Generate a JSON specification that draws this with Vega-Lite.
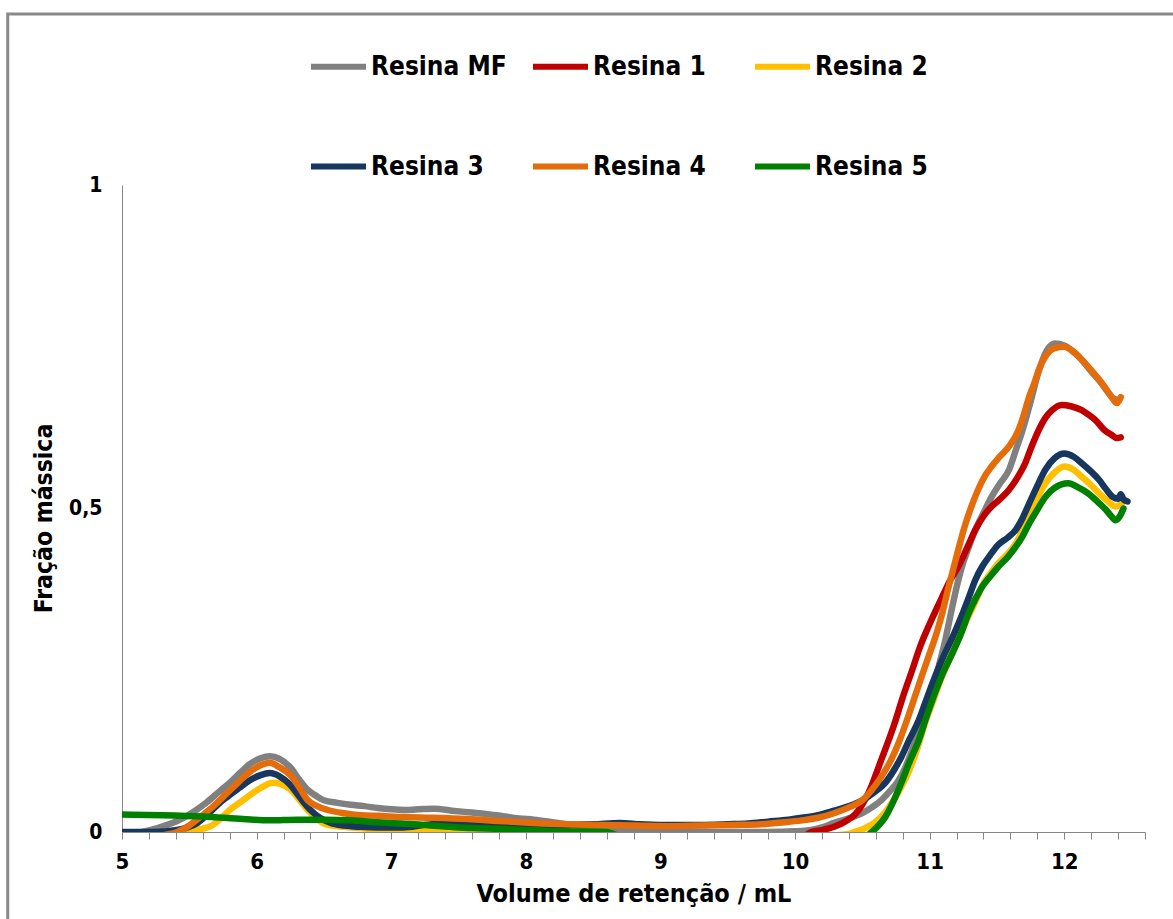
{
  "$schema": "https://vega.github.io/schema/vega-lite/v6.json",
  "width": 1023,
  "height": 647,
  "autosize": "none",
  "padding": {"left": 122, "top": 185, "right": 28, "bottom": 87},
  "background": "white",
  "config": {"view": {"stroke": null}, "font": "DejaVu Sans Condensed"},
  "resolve": {"scale": {"x": "independent", "y": "independent"}, "axis": {"x": "independent", "y": "independent"}},
  "layer": [
    {
      "data": {"values": [{}]},
      "mark": {"type": "rect", "fill": null, "stroke": "#898989", "strokeWidth": 3, "clip": false},
      "encoding": {
        "x": {"datum": 4.151, "type": "quantitative", "scale": {"domain": [5, 12.6], "nice": false, "zero": false}, "axis": null},
        "x2": {"datum": 13.2},
        "y": {"datum": 1.2643, "type": "quantitative", "scale": {"domain": [0, 1], "nice": false}, "axis": null},
        "y2": {"datum": -0.3}
      }
    },
    {
      "data": {"values": [
{"s":"Resina MF","x":5.0,"y":-0.005},{"s":"Resina MF","x":5.15,"y":0.0},{"s":"Resina MF","x":5.23,"y":0.004},{"s":"Resina MF","x":5.32,"y":0.01},{"s":"Resina MF","x":5.41,"y":0.017},{"s":"Resina MF","x":5.5,"y":0.027},{"s":"Resina MF","x":5.63,"y":0.046},{"s":"Resina MF","x":5.72,"y":0.062},{"s":"Resina MF","x":5.8,"y":0.076},{"s":"Resina MF","x":5.88,"y":0.092},{"s":"Resina MF","x":5.95,"y":0.105},{"s":"Resina MF","x":6.03,"y":0.114},{"s":"Resina MF","x":6.1,"y":0.117},{"s":"Resina MF","x":6.17,"y":0.113},{"s":"Resina MF","x":6.25,"y":0.1},{"s":"Resina MF","x":6.32,"y":0.08},{"s":"Resina MF","x":6.38,"y":0.065},{"s":"Resina MF","x":6.45,"y":0.055},{"s":"Resina MF","x":6.5,"y":0.049},{"s":"Resina MF","x":6.6,"y":0.045},{"s":"Resina MF","x":6.7,"y":0.042},{"s":"Resina MF","x":6.8,"y":0.04},{"s":"Resina MF","x":6.9,"y":0.037},{"s":"Resina MF","x":7.0,"y":0.035},{"s":"Resina MF","x":7.1,"y":0.034},{"s":"Resina MF","x":7.2,"y":0.035},{"s":"Resina MF","x":7.32,"y":0.036},{"s":"Resina MF","x":7.45,"y":0.033},{"s":"Resina MF","x":7.6,"y":0.03},{"s":"Resina MF","x":7.7,"y":0.028},{"s":"Resina MF","x":7.81,"y":0.025},{"s":"Resina MF","x":7.95,"y":0.021},{"s":"Resina MF","x":8.06,"y":0.019},{"s":"Resina MF","x":8.2,"y":0.015},{"s":"Resina MF","x":8.3,"y":0.012},{"s":"Resina MF","x":8.43,"y":0.008},{"s":"Resina MF","x":8.6,"y":0.005},{"s":"Resina MF","x":8.8,"y":0.003},{"s":"Resina MF","x":9.0,"y":0.002},{"s":"Resina MF","x":9.3,"y":0.0},{"s":"Resina MF","x":9.6,"y":0.0},{"s":"Resina MF","x":9.8,"y":0.0},{"s":"Resina MF","x":10.0,"y":0.001},{"s":"Resina MF","x":10.12,"y":0.003},{"s":"Resina MF","x":10.2,"y":0.007},{"s":"Resina MF","x":10.29,"y":0.014},{"s":"Resina MF","x":10.4,"y":0.021},{"s":"Resina MF","x":10.5,"y":0.029},{"s":"Resina MF","x":10.57,"y":0.038},{"s":"Resina MF","x":10.64,"y":0.049},{"s":"Resina MF","x":10.7,"y":0.062},{"s":"Resina MF","x":10.77,"y":0.08},{"s":"Resina MF","x":10.82,"y":0.1},{"s":"Resina MF","x":10.87,"y":0.127},{"s":"Resina MF","x":10.92,"y":0.155},{"s":"Resina MF","x":10.96,"y":0.184},{"s":"Resina MF","x":11.02,"y":0.22},{"s":"Resina MF","x":11.07,"y":0.258},{"s":"Resina MF","x":11.12,"y":0.3},{"s":"Resina MF","x":11.16,"y":0.34},{"s":"Resina MF","x":11.2,"y":0.378},{"s":"Resina MF","x":11.24,"y":0.41},{"s":"Resina MF","x":11.29,"y":0.44},{"s":"Resina MF","x":11.34,"y":0.467},{"s":"Resina MF","x":11.4,"y":0.493},{"s":"Resina MF","x":11.46,"y":0.518},{"s":"Resina MF","x":11.52,"y":0.538},{"s":"Resina MF","x":11.59,"y":0.56},{"s":"Resina MF","x":11.64,"y":0.59},{"s":"Resina MF","x":11.69,"y":0.621},{"s":"Resina MF","x":11.76,"y":0.673},{"s":"Resina MF","x":11.8,"y":0.705},{"s":"Resina MF","x":11.84,"y":0.73},{"s":"Resina MF","x":11.88,"y":0.747},{"s":"Resina MF","x":11.93,"y":0.755},{"s":"Resina MF","x":12.0,"y":0.752},{"s":"Resina MF","x":12.07,"y":0.742},{"s":"Resina MF","x":12.13,"y":0.73},{"s":"Resina MF","x":12.2,"y":0.712},{"s":"Resina MF","x":12.26,"y":0.698},{"s":"Resina MF","x":12.31,"y":0.684},{"s":"Resina MF","x":12.36,"y":0.671},{"s":"Resina MF","x":12.4,"y":0.667},
{"s":"Resina 1","x":5.0,"y":-0.02},{"s":"Resina 1","x":7.0,"y":-0.02},{"s":"Resina 1","x":9.0,"y":-0.02},{"s":"Resina 1","x":10.0,"y":-0.015},{"s":"Resina 1","x":10.12,"y":0.0},{"s":"Resina 1","x":10.2,"y":0.003},{"s":"Resina 1","x":10.29,"y":0.008},{"s":"Resina 1","x":10.38,"y":0.017},{"s":"Resina 1","x":10.45,"y":0.028},{"s":"Resina 1","x":10.52,"y":0.05},{"s":"Resina 1","x":10.57,"y":0.072},{"s":"Resina 1","x":10.62,"y":0.1},{"s":"Resina 1","x":10.68,"y":0.133},{"s":"Resina 1","x":10.74,"y":0.168},{"s":"Resina 1","x":10.8,"y":0.208},{"s":"Resina 1","x":10.87,"y":0.25},{"s":"Resina 1","x":10.93,"y":0.287},{"s":"Resina 1","x":10.99,"y":0.317},{"s":"Resina 1","x":11.04,"y":0.34},{"s":"Resina 1","x":11.09,"y":0.362},{"s":"Resina 1","x":11.15,"y":0.388},{"s":"Resina 1","x":11.22,"y":0.413},{"s":"Resina 1","x":11.28,"y":0.44},{"s":"Resina 1","x":11.34,"y":0.467},{"s":"Resina 1","x":11.4,"y":0.488},{"s":"Resina 1","x":11.46,"y":0.503},{"s":"Resina 1","x":11.52,"y":0.514},{"s":"Resina 1","x":11.59,"y":0.529},{"s":"Resina 1","x":11.65,"y":0.547},{"s":"Resina 1","x":11.71,"y":0.57},{"s":"Resina 1","x":11.76,"y":0.597},{"s":"Resina 1","x":11.81,"y":0.621},{"s":"Resina 1","x":11.86,"y":0.64},{"s":"Resina 1","x":11.91,"y":0.652},{"s":"Resina 1","x":11.98,"y":0.66},{"s":"Resina 1","x":12.05,"y":0.658},{"s":"Resina 1","x":12.13,"y":0.652},{"s":"Resina 1","x":12.18,"y":0.645},{"s":"Resina 1","x":12.23,"y":0.637},{"s":"Resina 1","x":12.3,"y":0.621},{"s":"Resina 1","x":12.35,"y":0.614},{"s":"Resina 1","x":12.39,"y":0.609},{"s":"Resina 1","x":12.42,"y":0.61},
{"s":"Resina 2","x":5.0,"y":-0.01},{"s":"Resina 2","x":5.4,"y":-0.005},{"s":"Resina 2","x":5.48,"y":0.0},{"s":"Resina 2","x":5.57,"y":0.004},{"s":"Resina 2","x":5.66,"y":0.009},{"s":"Resina 2","x":5.73,"y":0.02},{"s":"Resina 2","x":5.8,"y":0.034},{"s":"Resina 2","x":5.88,"y":0.046},{"s":"Resina 2","x":5.95,"y":0.057},{"s":"Resina 2","x":6.03,"y":0.068},{"s":"Resina 2","x":6.12,"y":0.076},{"s":"Resina 2","x":6.18,"y":0.074},{"s":"Resina 2","x":6.25,"y":0.066},{"s":"Resina 2","x":6.31,"y":0.052},{"s":"Resina 2","x":6.38,"y":0.034},{"s":"Resina 2","x":6.45,"y":0.02},{"s":"Resina 2","x":6.53,"y":0.011},{"s":"Resina 2","x":6.65,"y":0.008},{"s":"Resina 2","x":6.77,"y":0.006},{"s":"Resina 2","x":6.9,"y":0.004},{"s":"Resina 2","x":7.09,"y":0.003},{"s":"Resina 2","x":7.3,"y":0.002},{"s":"Resina 2","x":7.5,"y":0.001},{"s":"Resina 2","x":7.7,"y":0.0},{"s":"Resina 2","x":7.9,"y":-0.008},{"s":"Resina 2","x":10.0,"y":-0.008},{"s":"Resina 2","x":10.4,"y":-0.003},{"s":"Resina 2","x":10.44,"y":0.0},{"s":"Resina 2","x":10.52,"y":0.006},{"s":"Resina 2","x":10.59,"y":0.014},{"s":"Resina 2","x":10.66,"y":0.028},{"s":"Resina 2","x":10.72,"y":0.045},{"s":"Resina 2","x":10.79,"y":0.07},{"s":"Resina 2","x":10.85,"y":0.096},{"s":"Resina 2","x":10.91,"y":0.13},{"s":"Resina 2","x":10.96,"y":0.165},{"s":"Resina 2","x":11.03,"y":0.205},{"s":"Resina 2","x":11.09,"y":0.24},{"s":"Resina 2","x":11.16,"y":0.272},{"s":"Resina 2","x":11.22,"y":0.301},{"s":"Resina 2","x":11.28,"y":0.33},{"s":"Resina 2","x":11.34,"y":0.356},{"s":"Resina 2","x":11.4,"y":0.384},{"s":"Resina 2","x":11.46,"y":0.402},{"s":"Resina 2","x":11.51,"y":0.415},{"s":"Resina 2","x":11.58,"y":0.43},{"s":"Resina 2","x":11.64,"y":0.446},{"s":"Resina 2","x":11.7,"y":0.47},{"s":"Resina 2","x":11.76,"y":0.498},{"s":"Resina 2","x":11.81,"y":0.52},{"s":"Resina 2","x":11.86,"y":0.539},{"s":"Resina 2","x":11.93,"y":0.556},{"s":"Resina 2","x":12.0,"y":0.565},{"s":"Resina 2","x":12.07,"y":0.56},{"s":"Resina 2","x":12.13,"y":0.549},{"s":"Resina 2","x":12.2,"y":0.536},{"s":"Resina 2","x":12.26,"y":0.523},{"s":"Resina 2","x":12.32,"y":0.512},{"s":"Resina 2","x":12.38,"y":0.503},{"s":"Resina 2","x":12.43,"y":0.508},
{"s":"Resina 3","x":5.0,"y":0.0},{"s":"Resina 3","x":5.23,"y":0.0},{"s":"Resina 3","x":5.41,"y":0.003},{"s":"Resina 3","x":5.5,"y":0.008},{"s":"Resina 3","x":5.56,"y":0.014},{"s":"Resina 3","x":5.65,"y":0.03},{"s":"Resina 3","x":5.72,"y":0.044},{"s":"Resina 3","x":5.78,"y":0.054},{"s":"Resina 3","x":5.87,"y":0.068},{"s":"Resina 3","x":5.95,"y":0.08},{"s":"Resina 3","x":6.03,"y":0.088},{"s":"Resina 3","x":6.1,"y":0.091},{"s":"Resina 3","x":6.17,"y":0.086},{"s":"Resina 3","x":6.25,"y":0.073},{"s":"Resina 3","x":6.32,"y":0.054},{"s":"Resina 3","x":6.4,"y":0.034},{"s":"Resina 3","x":6.47,"y":0.022},{"s":"Resina 3","x":6.55,"y":0.014},{"s":"Resina 3","x":6.65,"y":0.01},{"s":"Resina 3","x":6.77,"y":0.008},{"s":"Resina 3","x":6.9,"y":0.007},{"s":"Resina 3","x":7.09,"y":0.007},{"s":"Resina 3","x":7.25,"y":0.011},{"s":"Resina 3","x":7.4,"y":0.013},{"s":"Resina 3","x":7.6,"y":0.013},{"s":"Resina 3","x":7.8,"y":0.013},{"s":"Resina 3","x":8.0,"y":0.012},{"s":"Resina 3","x":8.2,"y":0.011},{"s":"Resina 3","x":8.5,"y":0.012},{"s":"Resina 3","x":8.7,"y":0.014},{"s":"Resina 3","x":8.85,"y":0.012},{"s":"Resina 3","x":9.0,"y":0.011},{"s":"Resina 3","x":9.3,"y":0.011},{"s":"Resina 3","x":9.5,"y":0.012},{"s":"Resina 3","x":9.65,"y":0.013},{"s":"Resina 3","x":9.8,"y":0.016},{"s":"Resina 3","x":9.95,"y":0.019},{"s":"Resina 3","x":10.05,"y":0.022},{"s":"Resina 3","x":10.17,"y":0.026},{"s":"Resina 3","x":10.29,"y":0.033},{"s":"Resina 3","x":10.4,"y":0.04},{"s":"Resina 3","x":10.5,"y":0.049},{"s":"Resina 3","x":10.58,"y":0.06},{"s":"Resina 3","x":10.67,"y":0.076},{"s":"Resina 3","x":10.73,"y":0.094},{"s":"Resina 3","x":10.79,"y":0.116},{"s":"Resina 3","x":10.85,"y":0.143},{"s":"Resina 3","x":10.92,"y":0.173},{"s":"Resina 3","x":10.98,"y":0.207},{"s":"Resina 3","x":11.04,"y":0.24},{"s":"Resina 3","x":11.1,"y":0.27},{"s":"Resina 3","x":11.17,"y":0.301},{"s":"Resina 3","x":11.23,"y":0.33},{"s":"Resina 3","x":11.29,"y":0.362},{"s":"Resina 3","x":11.34,"y":0.39},{"s":"Resina 3","x":11.39,"y":0.41},{"s":"Resina 3","x":11.45,"y":0.428},{"s":"Resina 3","x":11.51,"y":0.444},{"s":"Resina 3","x":11.58,"y":0.455},{"s":"Resina 3","x":11.64,"y":0.467},{"s":"Resina 3","x":11.69,"y":0.485},{"s":"Resina 3","x":11.74,"y":0.508},{"s":"Resina 3","x":11.8,"y":0.535},{"s":"Resina 3","x":11.86,"y":0.56},{"s":"Resina 3","x":11.93,"y":0.578},{"s":"Resina 3","x":12.0,"y":0.585},{"s":"Resina 3","x":12.07,"y":0.58},{"s":"Resina 3","x":12.13,"y":0.57},{"s":"Resina 3","x":12.2,"y":0.557},{"s":"Resina 3","x":12.26,"y":0.544},{"s":"Resina 3","x":12.31,"y":0.53},{"s":"Resina 3","x":12.36,"y":0.518},{"s":"Resina 3","x":12.4,"y":0.515},{"s":"Resina 3","x":12.42,"y":0.522},{"s":"Resina 3","x":12.44,"y":0.514},{"s":"Resina 3","x":12.47,"y":0.511},
{"s":"Resina 4","x":5.0,"y":-0.01},{"s":"Resina 4","x":5.3,"y":-0.005},{"s":"Resina 4","x":5.41,"y":0.0},{"s":"Resina 4","x":5.5,"y":0.01},{"s":"Resina 4","x":5.58,"y":0.023},{"s":"Resina 4","x":5.68,"y":0.04},{"s":"Resina 4","x":5.78,"y":0.06},{"s":"Resina 4","x":5.87,"y":0.078},{"s":"Resina 4","x":5.95,"y":0.093},{"s":"Resina 4","x":6.03,"y":0.103},{"s":"Resina 4","x":6.1,"y":0.107},{"s":"Resina 4","x":6.17,"y":0.1},{"s":"Resina 4","x":6.25,"y":0.088},{"s":"Resina 4","x":6.32,"y":0.068},{"s":"Resina 4","x":6.38,"y":0.049},{"s":"Resina 4","x":6.45,"y":0.04},{"s":"Resina 4","x":6.53,"y":0.034},{"s":"Resina 4","x":6.65,"y":0.029},{"s":"Resina 4","x":6.77,"y":0.026},{"s":"Resina 4","x":6.9,"y":0.025},{"s":"Resina 4","x":7.09,"y":0.023},{"s":"Resina 4","x":7.3,"y":0.022},{"s":"Resina 4","x":7.57,"y":0.02},{"s":"Resina 4","x":7.8,"y":0.017},{"s":"Resina 4","x":8.06,"y":0.014},{"s":"Resina 4","x":8.3,"y":0.012},{"s":"Resina 4","x":8.56,"y":0.011},{"s":"Resina 4","x":8.8,"y":0.01},{"s":"Resina 4","x":9.06,"y":0.009},{"s":"Resina 4","x":9.3,"y":0.01},{"s":"Resina 4","x":9.55,"y":0.011},{"s":"Resina 4","x":9.75,"y":0.012},{"s":"Resina 4","x":9.92,"y":0.015},{"s":"Resina 4","x":10.05,"y":0.018},{"s":"Resina 4","x":10.17,"y":0.022},{"s":"Resina 4","x":10.29,"y":0.029},{"s":"Resina 4","x":10.4,"y":0.038},{"s":"Resina 4","x":10.5,"y":0.049},{"s":"Resina 4","x":10.57,"y":0.065},{"s":"Resina 4","x":10.64,"y":0.085},{"s":"Resina 4","x":10.71,"y":0.11},{"s":"Resina 4","x":10.77,"y":0.138},{"s":"Resina 4","x":10.83,"y":0.172},{"s":"Resina 4","x":10.89,"y":0.209},{"s":"Resina 4","x":10.94,"y":0.24},{"s":"Resina 4","x":10.99,"y":0.27},{"s":"Resina 4","x":11.04,"y":0.3},{"s":"Resina 4","x":11.09,"y":0.335},{"s":"Resina 4","x":11.14,"y":0.378},{"s":"Resina 4","x":11.19,"y":0.418},{"s":"Resina 4","x":11.26,"y":0.472},{"s":"Resina 4","x":11.31,"y":0.503},{"s":"Resina 4","x":11.36,"y":0.529},{"s":"Resina 4","x":11.41,"y":0.55},{"s":"Resina 4","x":11.46,"y":0.565},{"s":"Resina 4","x":11.52,"y":0.58},{"s":"Resina 4","x":11.59,"y":0.596},{"s":"Resina 4","x":11.66,"y":0.621},{"s":"Resina 4","x":11.7,"y":0.645},{"s":"Resina 4","x":11.74,"y":0.673},{"s":"Resina 4","x":11.78,"y":0.695},{"s":"Resina 4","x":11.81,"y":0.714},{"s":"Resina 4","x":11.86,"y":0.735},{"s":"Resina 4","x":11.93,"y":0.748},{"s":"Resina 4","x":12.0,"y":0.75},{"s":"Resina 4","x":12.07,"y":0.742},{"s":"Resina 4","x":12.13,"y":0.73},{"s":"Resina 4","x":12.2,"y":0.714},{"s":"Resina 4","x":12.26,"y":0.699},{"s":"Resina 4","x":12.31,"y":0.685},{"s":"Resina 4","x":12.36,"y":0.67},{"s":"Resina 4","x":12.39,"y":0.663},{"s":"Resina 4","x":12.42,"y":0.672},
{"s":"Resina 5","x":5.0,"y":0.027},{"s":"Resina 5","x":5.3,"y":0.026},{"s":"Resina 5","x":5.6,"y":0.024},{"s":"Resina 5","x":5.9,"y":0.02},{"s":"Resina 5","x":6.1,"y":0.018},{"s":"Resina 5","x":6.3,"y":0.019},{"s":"Resina 5","x":6.5,"y":0.019},{"s":"Resina 5","x":6.7,"y":0.018},{"s":"Resina 5","x":6.9,"y":0.015},{"s":"Resina 5","x":7.07,"y":0.013},{"s":"Resina 5","x":7.25,"y":0.011},{"s":"Resina 5","x":7.44,"y":0.008},{"s":"Resina 5","x":7.6,"y":0.006},{"s":"Resina 5","x":7.81,"y":0.005},{"s":"Resina 5","x":8.0,"y":0.003},{"s":"Resina 5","x":8.31,"y":0.001},{"s":"Resina 5","x":8.6,"y":0.0},{"s":"Resina 5","x":8.75,"y":-0.01},{"s":"Resina 5","x":10.5,"y":-0.01},{"s":"Resina 5","x":10.57,"y":0.0},{"s":"Resina 5","x":10.62,"y":0.01},{"s":"Resina 5","x":10.67,"y":0.023},{"s":"Resina 5","x":10.73,"y":0.047},{"s":"Resina 5","x":10.79,"y":0.076},{"s":"Resina 5","x":10.85,"y":0.108},{"s":"Resina 5","x":10.92,"y":0.142},{"s":"Resina 5","x":10.98,"y":0.18},{"s":"Resina 5","x":11.04,"y":0.215},{"s":"Resina 5","x":11.1,"y":0.246},{"s":"Resina 5","x":11.17,"y":0.277},{"s":"Resina 5","x":11.23,"y":0.305},{"s":"Resina 5","x":11.29,"y":0.338},{"s":"Resina 5","x":11.34,"y":0.36},{"s":"Resina 5","x":11.39,"y":0.379},{"s":"Resina 5","x":11.45,"y":0.395},{"s":"Resina 5","x":11.51,"y":0.41},{"s":"Resina 5","x":11.58,"y":0.425},{"s":"Resina 5","x":11.64,"y":0.441},{"s":"Resina 5","x":11.69,"y":0.457},{"s":"Resina 5","x":11.74,"y":0.477},{"s":"Resina 5","x":11.8,"y":0.498},{"s":"Resina 5","x":11.86,"y":0.518},{"s":"Resina 5","x":11.93,"y":0.532},{"s":"Resina 5","x":12.03,"y":0.539},{"s":"Resina 5","x":12.1,"y":0.533},{"s":"Resina 5","x":12.18,"y":0.523},{"s":"Resina 5","x":12.25,"y":0.51},{"s":"Resina 5","x":12.31,"y":0.498},{"s":"Resina 5","x":12.35,"y":0.488},{"s":"Resina 5","x":12.38,"y":0.482},{"s":"Resina 5","x":12.41,"y":0.487},{"s":"Resina 5","x":12.44,"y":0.5}
      ]},
      "mark": {"type": "line", "strokeWidth": 6.5, "strokeCap": "round", "strokeJoin": "round", "clip": true, "interpolate": "monotone"},
      "encoding": {
        "x": {
          "field": "x", "type": "quantitative",
          "scale": {"domain": [5, 12.6], "nice": false, "zero": false},
          "axis": {
            "values": [5,5.2,5.4,5.6,5.8,6,6.2,6.4,6.6,6.8,7,7.2,7.4,7.6,7.8,8,8.2,8.4,8.6,8.8,9,9.2,9.4,9.6,9.8,10,10.2,10.4,10.6,10.8,11,11.2,11.4,11.6,11.8,12,12.2,12.4,12.6],
            "format": ".1~f",
            "labelExpr": "abs(datum.value - round(datum.value)) < 0.01 ? datum.label : ''",
            "grid": false,
            "domainColor": "#868686", "domainWidth": 1,
            "tickColor": "#868686", "tickSize": 7, "tickWidth": 1,
            "labelFont": "DejaVu Sans Condensed", "labelFontWeight": "bold", "labelFontSize": 22, "labelColor": "black", "labelPadding": 12,
            "labelOverlap": false, "labelFlush": false,
            "title": "Volume de retenção / mL",
            "titleFont": "DejaVu Sans Condensed", "titleFontWeight": "bold", "titleFontSize": 25, "titleColor": "black", "titlePadding": 9
          }
        },
        "y": {
          "field": "y", "type": "quantitative",
          "scale": {"domain": [0, 1], "nice": false},
          "axis": {
            "values": [0, 0.5, 1],
            "format": ".1~f",
            "labelExpr": "replace(datum.label, '.', ',')",
            "grid": false, "ticks": false,
            "domainColor": "#868686", "domainWidth": 1,
            "labelFont": "DejaVu Sans Condensed", "labelFontWeight": "bold", "labelFontSize": 21, "labelColor": "black", "labelPadding": 20, "labelFlush": false,
            "title": "Fração mássica", "titleY": 333,
            "titleFont": "DejaVu Sans Condensed", "titleFontWeight": "bold", "titleFontSize": 24.5, "titleColor": "black", "titlePadding": 12
          }
        },
        "color": {
          "field": "s", "type": "nominal",
          "scale": {
            "domain": ["Resina MF", "Resina 1", "Resina 2", "Resina 3", "Resina 4", "Resina 5"],
            "range": ["#808080", "#C00000", "#FFC000", "#17375E", "#E46C0A", "#008000"]
          },
          "legend": {
            "orient": "none", "legendX": 186, "legendY": -149,
            "direction": "horizontal", "columns": 3, "gridAlign": "all",
            "columnPadding": 14, "rowPadding": 56,
            "symbolType": "stroke", "symbolSize": 3025, "symbolStrokeWidth": 6,
            "labelFont": "DejaVu Sans Condensed", "labelFontWeight": "bold", "labelFontSize": 26, "labelColor": "black",
            "labelOffset": 2, "labelLimit": 0, "title": null
          }
        }
      }
    }
  ]
}
